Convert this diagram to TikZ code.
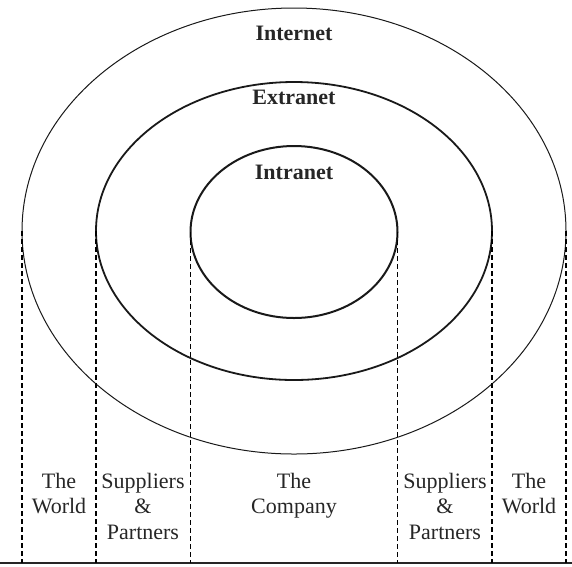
\documentclass[tikz,border=0pt]{standalone}
\usepackage{fontspec}
\setmainfont{Liberation Serif}
\usetikzlibrary{shapes.geometric}
\begin{document}
\begin{tikzpicture}[x=1pt,y=-1pt,
  ring/.style={draw, ellipse, inner sep=0pt, outer sep=0pt, color=black!90},
  title/.style={font=\fontsize{22}{26}\selectfont\bfseries, text=black!85},
  zone/.style={font=\fontsize{22}{25.5}\selectfont, align=center, anchor=north, inner sep=0pt, text=black!85},
  dashline/.style={draw=black, line width=1.8pt, dash pattern=on 5pt off 3pt}]
\useasboundingbox (0,0) rectangle (572,566);
\node[ring, line width=1pt, minimum width=544pt, minimum height=446pt] (outer) at (294,231) {};
\node[ring, line width=1.8pt, minimum width=396pt, minimum height=298pt] (middle) at (294,231) {};
\node[ring, line width=2pt, minimum width=207pt, minimum height=172pt] (inner) at (294,232) {};
\node[title] (tInternet) at (294,33) {Internet};
\node[title] (tExtranet) at (294,97) {Extranet};
\node[title] (tIntranet) at (294,172) {Intranet};
\coordinate (floorL) at (0,563);
\coordinate (floorR) at (572,563);
\draw[line width=1.3pt, black!85] (floorL) -- (floorR);
\foreach \e/\a in {outer/west, outer/east, middle/west, middle/east, inner/west, inner/east}
  \draw[dashline] (\e.\a) -- (\e.\a |- floorL);
\node[zone] (zWorldL) at (59,473) {The\\World};
\node[zone] (zSupL) at (143,473) {Suppliers\\\&\\Partners};
\node[zone] (zCompany) at (294,473) {The\\Company};
\node[zone] (zSupR) at (445,473) {Suppliers\\\&\\Partners};
\node[zone] (zWorldR) at (529,473) {The\\World};
\end{tikzpicture}
\end{document}
